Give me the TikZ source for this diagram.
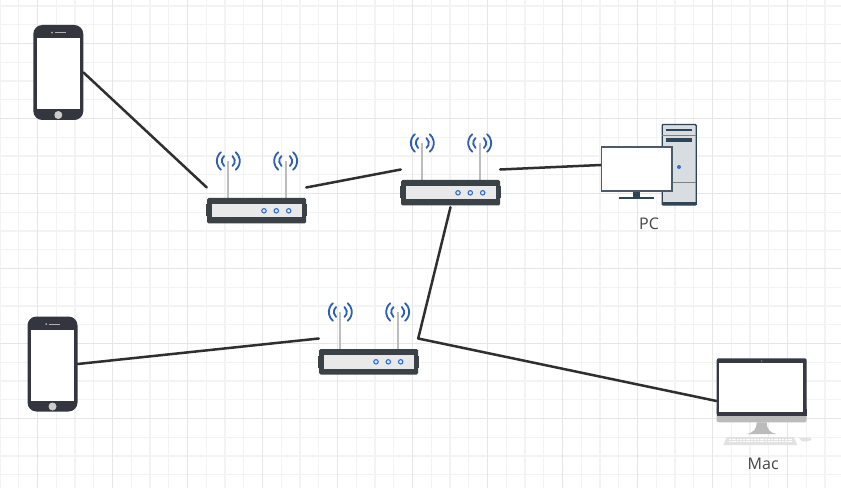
\documentclass[tikz,border=0pt]{standalone}
\usepackage{fontspec}
\setmainfont{Open Sans}
\usepackage{xcolor}
\usetikzlibrary{positioning, calc}
\definecolor{gridminor}  {HTML}{F3F3F3}
\definecolor{gridmajor}  {HTML}{E6E6E6}
\definecolor{linkstroke} {HTML}{2F2F2F}
\definecolor{routerdark} {HTML}{3A4147}
\definecolor{routerpanel}{HTML}{E9E9E9}
\definecolor{dotblue}    {HTML}{2F6FD0}
\definecolor{waveblue}   {HTML}{2D5FB0}
\definecolor{antennagray}{HTML}{BDBDBD}
\definecolor{phonedark}  {HTML}{33363F}
\definecolor{towerfill}  {HTML}{D8DDE2}
\definecolor{towerstroke}{HTML}{2E4457}
\definecolor{monitorline}{HTML}{4A5C6C}
\definecolor{macdark}    {HTML}{363944}
\definecolor{macgray}    {HTML}{BBBBBB}
\definecolor{keygray}    {HTML}{E2E2E2}
\definecolor{labeltext}  {HTML}{444444}
\tikzset{
  routerbox/.style={rectangle, minimum width=99pt, minimum height=75pt, inner sep=0pt},
  phonebox/.style={rectangle, minimum width=50pt, minimum height=95pt, inner sep=0pt},
  pcbox/.style={rectangle, minimum width=96pt, minimum height=81pt, inner sep=0pt},
  macbox/.style={rectangle, minimum width=90pt, minimum height=86pt, inner sep=0pt},
  devlabel/.style={font=\fontsize{16}{19}\selectfont, text=labeltext, inner sep=0pt},
  link/.style={line width=2.5pt, color=linkstroke, line cap=round, line join=round},
  wave/.style={line width=1.8pt, color=waveblue, line cap=round},
  router/.pic={
    \draw[antennagray, line width=1.8pt] (-28.2,26.5) -- (-28.2,-10.5);
    \draw[antennagray, line width=1.8pt] (29.2,26.5) -- (29.2,-10.5);
    \foreach \ax in {-28.2,29.2}{
      \foreach \ar in {6.5,11.5}{
        \draw[wave] ([shift={(\ax,26.5)}]130:\ar) arc (130:230:\ar);
        \draw[wave] ([shift={(\ax,26.5)}]-50:\ar) arc (-50:50:\ar);
      }
    }
    \fill[routerdark] (-50.5,-29) rectangle (50.5,-17);
    \fill[routerdark, rounded corners=1.5pt] (-49.5,-36) rectangle (49.5,-10.5);
    \fill[routerpanel] (-45,-30) rectangle (45,-16.5);
    \foreach \dx in {7.5,19.8,32.2}
      \draw[dotblue, line width=1.1pt, fill=routerpanel] (\dx,-23.3) circle (2.2);
  },
  phone/.pic={
    \fill[phonedark, rounded corners=9pt] (-25,-47.5) rectangle (25,47.5);
    \fill[white] (-21.8,-36.5) rectangle (21.8,34.2);
    \fill[gray!40] (0,-42.5) circle (4);
    \draw[gray!60, line width=0.8pt] (-3.3,39.8) -- (7.7,39.8);
    \fill[gray!60] (-6.3,39.8) circle (1);
  },
  pctower/.pic={
    \draw[towerstroke, fill=towerfill, line width=1.4pt, rounded corners=1pt] (13.2,-40) rectangle (47.2,40.5);
    \fill[towerstroke] (12.7,-40.5) rectangle (47.7,-37.5);
    \draw[gray, line width=0.7pt] (13.2,29.3) -- (47.2,29.3);
    \draw[gray, line width=0.7pt] (13.2,-17.7) -- (47.2,-17.7);
    \draw[towerstroke, line width=1.5pt] (17,35) -- (42.7,35);
    \fill[towerstroke] (17,22.7) rectangle (42.7,26.7);
    \fill[dotblue] (30,-2) circle (2);
    \fill[towerstroke] (-16,-26) rectangle (-9,-33);
    \draw[towerstroke, line width=1.5pt] (-29.7,-33.2) -- (4.7,-33.2);
    \draw[monitorline, fill=white, line width=1.5pt] (-47.5,-26) rectangle (23,18);
  },
  imac/.pic={
    \fill[macgray] (-5,-21.3) -- (5,-21.3) .. controls (5,-28) and (8,-32) .. (15,-33)
      -- (-15.7,-33) .. controls (-8,-32) and (-5,-28) .. cycle;
    \fill[keygray] (-35,-36) -- (32,-36) -- (35.6,-44) -- (-38.4,-44) -- cycle;
    \foreach \ky in {-38.2,-40.6}
      \draw[white, line width=0.5pt, dash pattern=on 2pt off 0.8pt] (-33,\ky) -- (31,\ky);
    \fill[keygray] (37,-36.5) -- (48,-36.5) -- (50,-39) -- (44,-40.5) -- (40,-40) -- cycle;
    \fill[macgray, rounded corners=2pt] (-45,-21.3) rectangle (45,-5);
    \fill[macdark, rounded corners=2pt] (-45,-14.7) rectangle (45,42.7);
    \fill[macdark] (-45,-14.7) rectangle (45,-8);
    \fill[white] (-42.7,-10.7) rectangle (41.6,37.7);
    \fill[gray!50] (0,40) circle (0.7);
  }
}

\begin{document}
\begin{tikzpicture}[x=1pt, y=1pt]

  \useasboundingbox (0,0) rectangle (841,488);
  \fill[white] (0,0) rectangle (841,488);

  %% GRID
  \foreach \gi in {0,...,44}
    \draw[gridminor, line width=1.2pt] ({\gi*18.75},0) -- ({\gi*18.75},488);
  \foreach \gj in {0,...,25}
    \draw[gridminor, line width=1.2pt] (0,{482-\gj*18.75}) -- (841,{482-\gj*18.75});
  \foreach \gi in {0,...,10}
    \draw[gridmajor, line width=1.2pt] ({37.5+\gi*75},0) -- ({37.5+\gi*75},488);
  \foreach \gj in {0,...,5}
    \draw[gridmajor, line width=1.2pt] (0,{444.5-\gj*75}) -- (841,{444.5-\gj*75});

  %% DEVICES
  \node[phonebox]  (phone-a)  at (58.3,415.5) {};
  \node[phonebox]  (phone-b)  at (52.5,124)   {};
  \node[routerbox] (router-a) at (256.5,300.5) {};
  \node[routerbox] (router-b) at (450.5,318.5) {};
  \node[routerbox] (router-c) at (368.5,149.5) {};
  \node[pcbox]     (pc)       at (649,323)    {};
  \node[macbox]    (mac)      at (761.7,87)   {};

  \node[devlabel, below=12pt of pc]  (pc-label)  {PC};
  \node[devlabel, below=14pt of mac, xshift=1.5pt] (mac-label) {Mac};

  %% LINKS
  \draw[link] (phone-a.east) -- (router-a.west);
  \draw[link] (router-a.east) -- (router-b.west);
  \draw[link] (router-b.east) -- (pc.west);
  \draw[link] (phone-b.east) -- (router-c.west);
  \draw[link] (router-b.south) -- (router-c.east) -- (mac.west);

  %% ICONS
  \pic at (phone-a) {phone};
  \pic at (phone-b) {phone};
  \pic at (router-a) {router};
  \pic at (router-b) {router};
  \pic at (router-c) {router};
  \pic at (pc) {pctower};
  \pic at (mac) {imac};

\end{tikzpicture}
\end{document}
